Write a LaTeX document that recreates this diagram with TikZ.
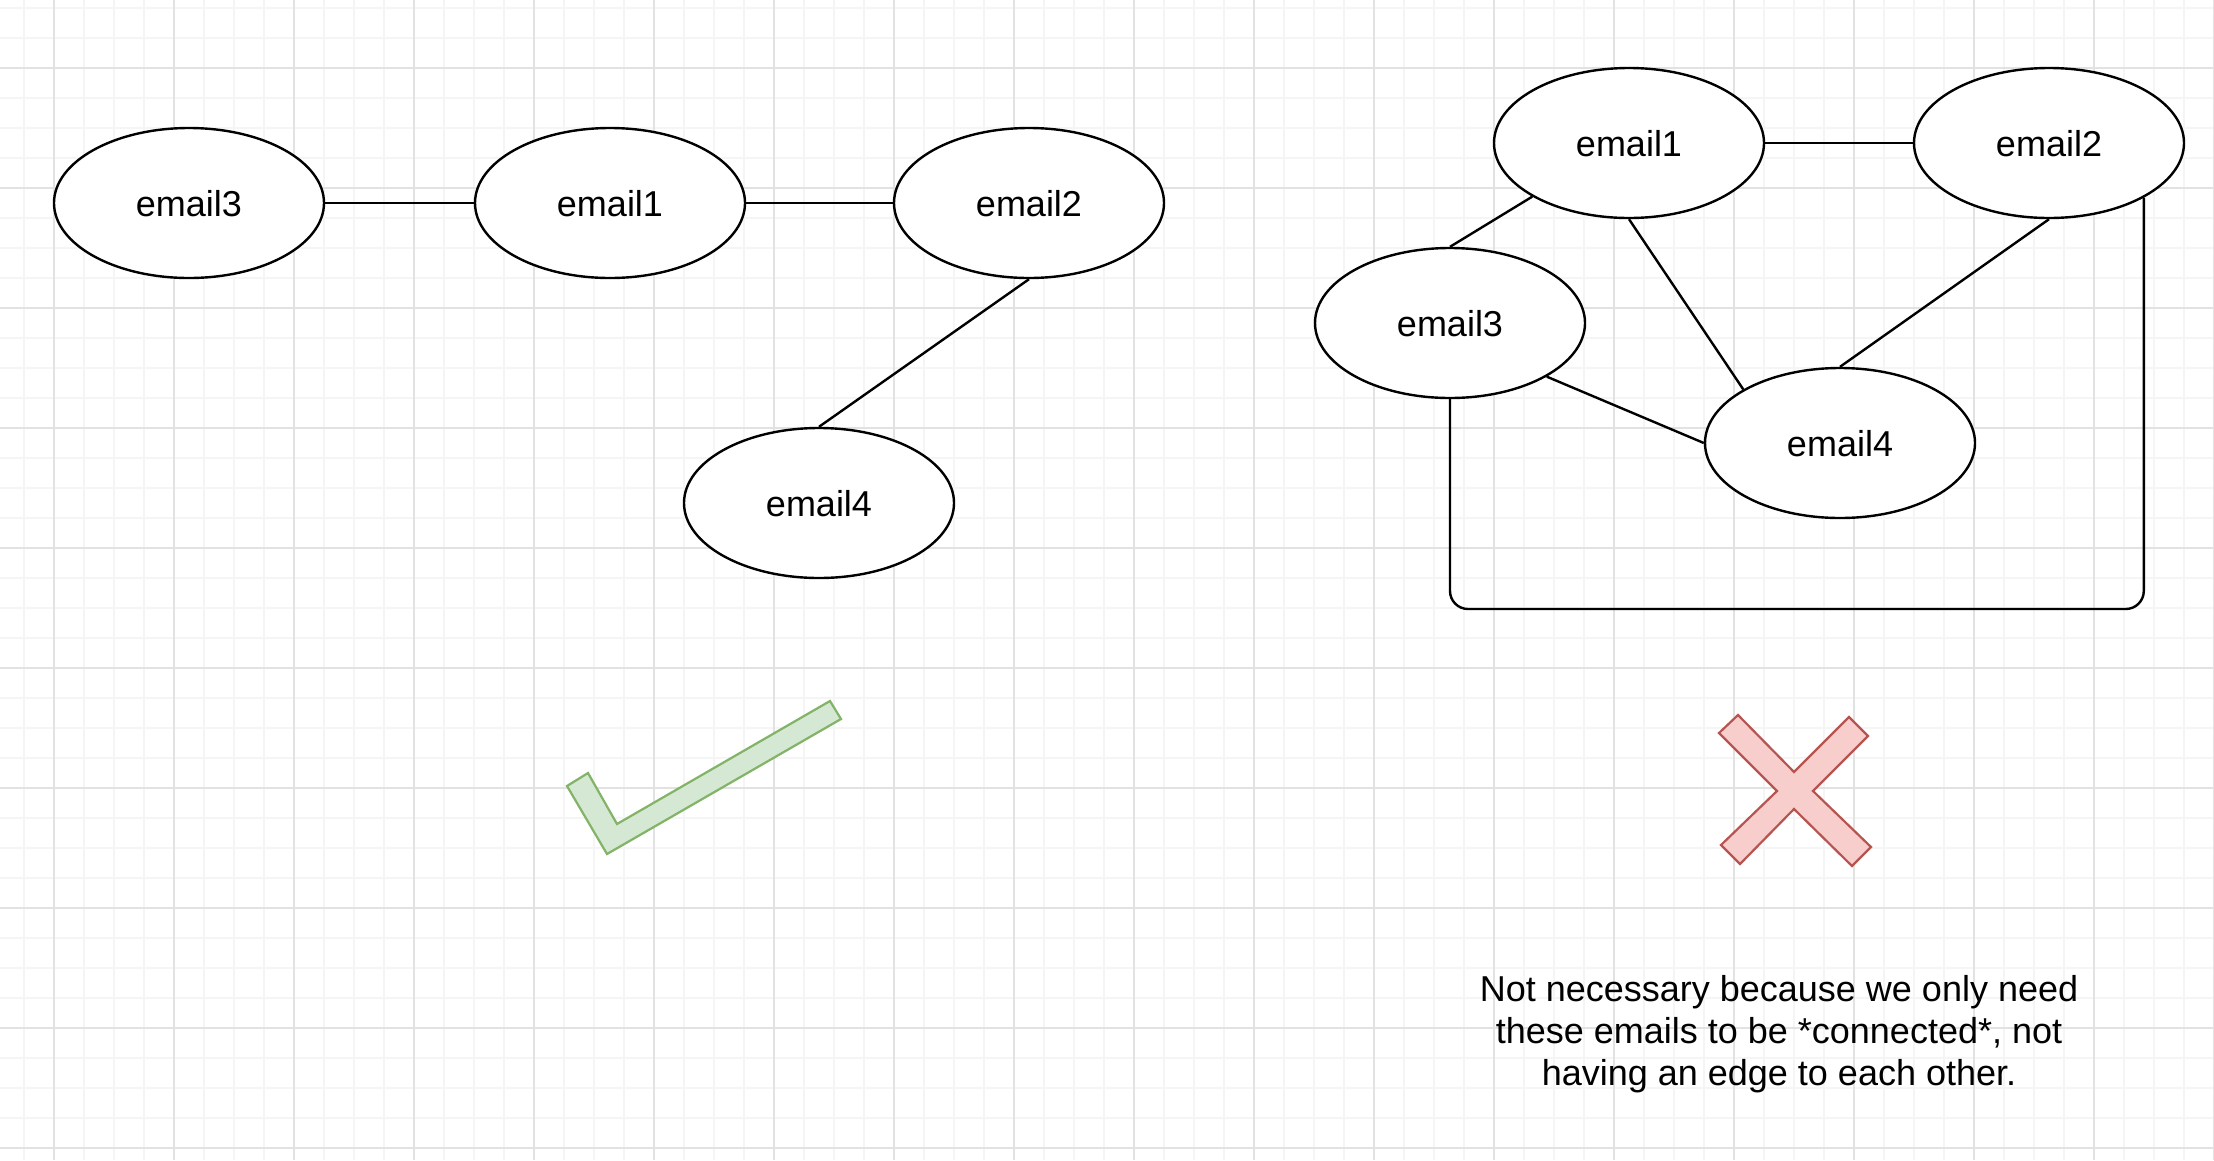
\documentclass[tikz,border=0pt]{standalone}
\usepackage{fontspec}
\setmainfont{Liberation Sans}
\usepackage{tikz}
\usepackage{xcolor}
\usetikzlibrary{shapes.geometric,positioning}
\definecolor{minorgrid}{HTML}{F5F5F5}
\definecolor{majorgrid}{HTML}{E2E2E2}
\definecolor{okfill}{HTML}{D5E8D4}
\definecolor{okline}{HTML}{82B366}
\definecolor{nofill}{HTML}{F8CECC}
\definecolor{noline}{HTML}{B85450}

\begin{document}
\begin{tikzpicture}
  [x=1pt,y=-1pt,line width=2.4pt,
   mail/.style={ellipse,draw,fill=white,minimum width=270pt,minimum height=150pt,inner sep=0pt,
     font=\fontsize{36}{42}\selectfont,text depth=0pt}]
  \useasboundingbox (0,0) rectangle (2214,1160);
  \fill[white] (0,0) rectangle (2214,1160);

  % grid
  \foreach \x in {24,54,...,2214}
    \draw[minorgrid,line width=1.2pt] (\x,0) -- (\x,1160);
  \foreach \y in {8,38,...,1160}
    \draw[minorgrid,line width=1.2pt] (0,\y) -- (2214,\y);
  \foreach \x in {54,174,...,2214}
    \draw[majorgrid,line width=1.2pt] (\x,0) -- (\x,1160);
  \foreach \y in {68,188,...,1160}
    \draw[majorgrid,line width=1.2pt] (0,\y) -- (2214,\y);

  % left graph
  \node[mail] (a3) at (189,203) {email3};
  \node[mail] (a1) at (610,203) {email1};
  \node[mail] (a2) at (1029,203) {email2};
  \node[mail] (a4) at (819,503) {email4};

  \foreach \from/\to in {a3/a1,a1/a2}
    \draw (\from) -- (\to);
  \draw (a2.south) -- (a4.north);

  % right graph
  \node[mail] (b1) at (1629,143) {email1};
  \node[mail] (b2) at (2049,143) {email2};
  \node[mail] (b3) at (1450,323) {email3};
  \node[mail] (b4) at (1840,443) {email4};

  \draw (b1) -- (b2);
  \draw (b1.209) -- (b3.north);
  \draw (b1.south) -- (b4.151);
  \draw (b2.south) -- (b4.north);
  \draw (b3.-29) -- (b4.west);
  \coordinate (loopy) at (0,609);
  \draw[rounded corners=18pt] (b3.south) -- (b3.south |- loopy) -- (b2.-30 |- loopy) -- (b2.-30);

  % check and cross
  \draw[okline,fill=okfill,line width=2.2pt]
    (567,786) -- (588,773) -- (617,824) -- (830,701) -- (841,719) -- (607,854) -- cycle;
  \draw[noline,fill=nofill,line width=2.2pt]
    (1719,733) -- (1738,715) -- (1794,772) -- (1849,717) -- (1868,736) -- (1813,791)
    -- (1871,847) -- (1852,866) -- (1794,809) -- (1740,864) -- (1721,845) -- (1777,791) -- cycle;

  \node[align=center,font=\fontsize{36}{42}\selectfont] (note) at (1779,1034)
    {Not necessary because we only need\\these emails to be *connected*, not\\having an edge to each other.};
\end{tikzpicture}
\end{document}
